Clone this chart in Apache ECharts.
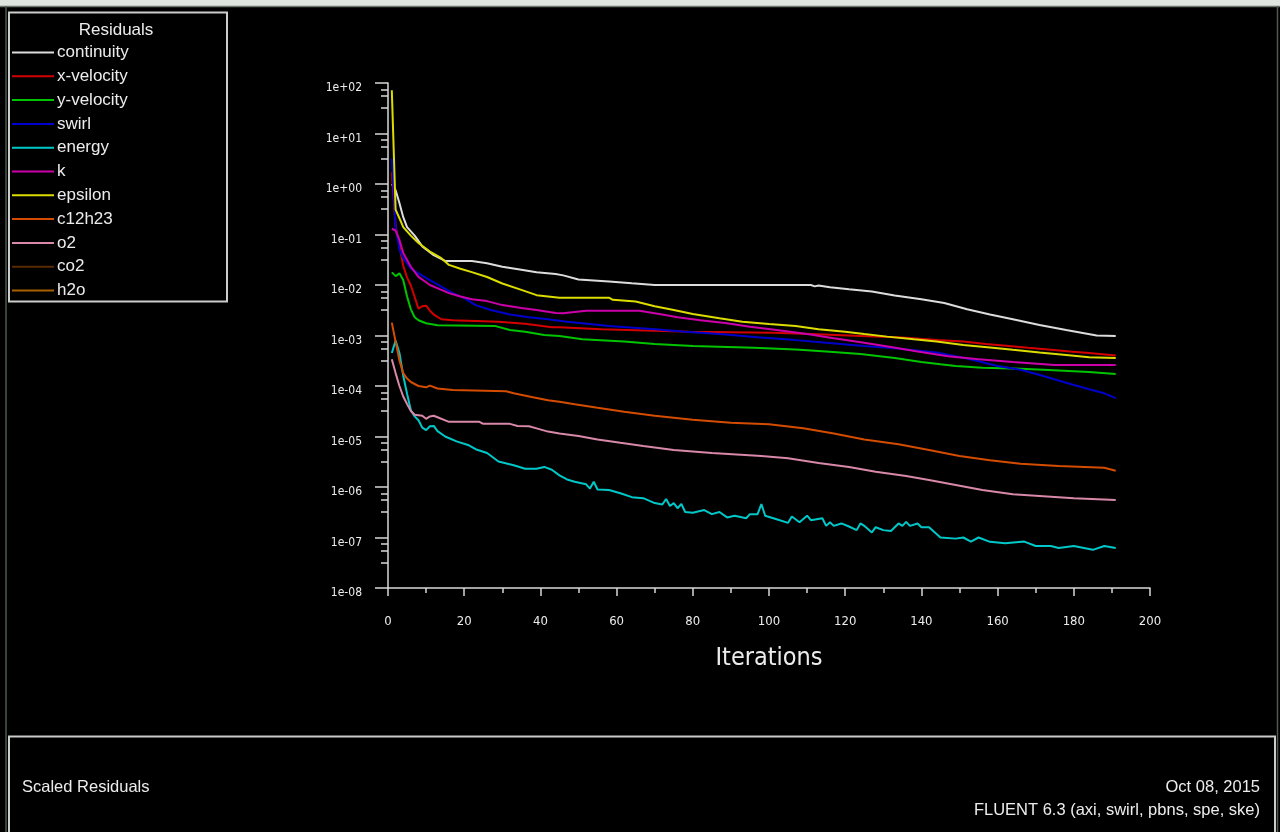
<!DOCTYPE html>
<html>
<head>
<meta charset="utf-8">
<script src="https://cdn.jsdelivr.net/npm/echarts@6/dist/echarts.min.js"></script>
<style>
html,body{margin:0;padding:0;background:#000;}
#chart{width:1280px;height:832px;}
</style>
</head>
<body>
<div id="chart"></div>
<script>
// ---- data (iteration, scaled residual) ----
const seriesNames = ['continuity','x-velocity','y-velocity','swirl','energy','k','epsilon','c12h23','o2','co2','h2o'];
const seriesColors = ['#dcdcdc','#d40000','#00c400','#0000cc','#00c8c8','#cc00aa','#dcdc00','#d44c00','#d888a8','#5a2a00','#a86000'];

const continuity = [[1,1.0],[2,0.75],[3,0.42],[4,0.22],[5,0.14],[7,0.095],[9,0.058],[12,0.039],[15,0.030],[22,0.030],[26,0.027],[30,0.023],[35,0.020],[39,0.0178],[44,0.0165],[46,0.0155],[50,0.0129],[58,0.0117],[64,0.0108],[70,0.0100],[111,0.0100],[112,0.0094],[113,0.0098],[116,0.0090],[121,0.0082],[127,0.0074],[133,0.0062],[140,0.0052],[146,0.0044],[152,0.0033],[158,0.0026],[164,0.0021],[171,0.00162],[178,0.00129],[186,0.0010],[191,0.00098]];
const xVelocity = [[1,1.7],[2,0.15],[3,0.06],[4,0.024],[5,0.014],[6,0.0098],[7,0.0058],[8,0.0034],[9,0.0038],[10,0.0039],[11,0.0031],[12,0.0026],[14,0.0021],[17,0.0020],[29,0.00187],[36,0.0017],[43,0.00146],[45,0.00145],[56,0.00133],[79,0.00119],[101,0.00114],[111,0.00107],[124,0.00098],[135,0.00091],[144,0.00081],[151,0.00076],[157,0.00068],[163,0.00062],[168,0.00057],[174,0.00052],[179,0.00048],[184,0.00045],[191,0.00040]];
const yVelocity = [[1,0.0178],[2,0.0150],[3,0.017],[4,0.0126],[5,0.0059],[6,0.0033],[7,0.0023],[8,0.0020],[10,0.00175],[13,0.0016],[28,0.00155],[32,0.00128],[36,0.00119],[41,0.00102],[45,0.00098],[51,0.00084],[62,0.00076],[70,0.00068],[80,0.00062],[96,0.00057],[107,0.00053],[115,0.00048],[124,0.00043],[133,0.00036],[140,0.00030],[145,0.00027],[149,0.00025],[156,0.00023],[166,0.00022],[172,0.00021],[184,0.00019],[191,0.000173]];
const swirl = [[1,3.2],[2,0.14],[3,0.05],[4,0.034],[6,0.021],[8,0.017],[11,0.0125],[14,0.0093],[17,0.0069],[20,0.0055],[23,0.0040],[27,0.0032],[32,0.0026],[37,0.0023],[42,0.0021],[47,0.00187],[51,0.00175],[58,0.00155],[70,0.00133],[78,0.00119],[87,0.00107],[97,0.00092],[107,0.00081],[115,0.00072],[125,0.00062],[133,0.00056],[144,0.00046],[152,0.00035],[160,0.00025],[166,0.00021],[172,0.000158],[178,0.000116],[184,0.0000861],[188,0.0000716],[191,0.0000575]];
const energy = [[1,0.00045],[2,0.00079],[3,0.00045],[4,0.00016],[5,0.00007],[6,0.000033],[7,0.000025],[8,0.000021],[9,0.000015],[10,0.0000134],[11,0.000016],[12,0.0000162],[13,0.0000128],[15,0.000010],[18,0.0000080],[21,0.0000068],[23,0.0000056],[26,0.0000047],[29,0.0000032],[33,0.0000027],[36,0.0000023],[39,0.0000023],[41,0.0000025],[43,0.0000022],[45,0.0000017],[47,0.00000141],[49,0.00000127],[52,0.00000113],[53,0.00000093],[54,0.00000127],[55,0.00000089],[58,0.00000087],[61,0.00000075],[64,0.00000063],[67,0.0000006],[70,0.00000048],[72,0.00000045],[73,0.00000058],[74,0.00000042],[75,0.00000048],[76,0.00000038],[77,0.00000046],[78,0.00000032],[80,0.00000031],[83,0.00000035],[85,0.00000029],[87,0.00000032],[89,0.00000025],[91,0.00000027],[94,0.00000024],[95,0.00000029],[97,0.00000029],[98,0.00000046],[99,0.00000027],[102,0.00000023],[105,0.000000195],[106,0.00000026],[108,0.0000002],[110,0.00000027],[111,0.00000022],[114,0.00000024],[115,0.00000017],[116,0.0000002],[117,0.00000017],[119,0.00000019],[121,0.000000165],[123,0.00000014],[124,0.00000019],[125,0.00000017],[127,0.000000126],[128,0.00000016],[130,0.00000014],[132,0.000000135],[134,0.00000019],[135,0.00000017],[136,0.000000204],[137,0.00000017],[139,0.00000019],[140,0.00000016],[142,0.00000016],[145,0.0000001],[149,0.000000095],[151,0.0000001],[153,0.000000083],[155,0.0000001],[158,0.000000082],[162,0.000000077],[167,0.000000083],[170,0.000000068],[174,0.000000068],[176,0.000000062],[180,0.000000068],[185,0.000000057],[188,0.000000068],[191,0.000000062]];
const kTurb = [[1,0.13],[2,0.12],[3,0.078],[4,0.043],[6,0.023],[8,0.0145],[11,0.010],[14,0.0080],[16,0.0069],[19,0.0059],[22,0.0052],[26,0.0048],[30,0.0040],[35,0.0035],[39,0.0032],[44,0.0028],[46,0.00275],[52,0.0031],[66,0.0031],[72,0.0026],[76,0.0023],[82,0.0020],[89,0.00175],[95,0.00149],[102,0.00128],[110,0.00107],[117,0.00088],[125,0.00072],[132,0.00059],[139,0.00048],[147,0.00039],[155,0.00034],[164,0.00030],[175,0.00026],[191,0.00026]];
const epsilon = [[1,72],[2,0.31],[3,0.21],[4,0.14],[6,0.095],[8,0.068],[11,0.046],[14,0.034],[16,0.025],[19,0.021],[22,0.018],[26,0.0144],[30,0.0107],[35,0.0080],[39,0.0063],[45,0.0056],[58,0.0056],[59,0.0051],[65,0.0047],[70,0.0038],[75,0.0032],[80,0.00267],[87,0.0022],[93,0.00188],[100,0.00169],[107,0.00155],[113,0.00133],[120,0.00119],[125,0.00107],[131,0.00095],[138,0.00084],[144,0.00076],[151,0.00065],[158,0.00058],[164,0.00052],[171,0.00046],[178,0.00041],[184,0.00037],[191,0.00036]];
const c12h23 = [[1,0.0018],[2,0.00075],[3,0.00032],[4,0.00018],[5,0.00014],[6,0.00012],[8,0.0001],[10,0.000094],[11,0.000102],[13,0.000089],[17,0.000083],[31,0.000079],[33,0.0000716],[38,0.000060],[42,0.000052],[45,0.000049],[49,0.0000437],[55,0.0000370],[62,0.0000310],[70,0.0000257],[80,0.0000214],[90,0.0000188],[100,0.0000174],[109,0.0000145],[117,0.0000115],[125,0.0000087],[134,0.0000070],[142,0.0000054],[150,0.0000041],[158,0.0000034],[166,0.0000029],[176,0.0000026],[188,0.0000024],[191,0.0000021]];
const o2 = [[1,0.00034],[2,0.00018],[3,0.0001],[4,0.000062],[5,0.000044],[6,0.000032],[7,0.000027],[9,0.0000257],[10,0.0000224],[11,0.000025],[12,0.0000257],[13,0.000024],[16,0.0000195],[24,0.0000195],[25,0.0000178],[32,0.0000178],[34,0.0000162],[37,0.000016],[39,0.0000145],[42,0.0000125],[45,0.0000115],[50,0.0000102],[55,0.0000087],[61,0.0000075],[67,0.0000065],[75,0.0000054],[85,0.0000047],[98,0.0000041],[105,0.0000037],[113,0.000003],[121,0.0000025],[128,0.000002],[136,0.00000165],[142,0.00000138],[149,0.0000011],[156,0.00000087],[164,0.00000072],[173,0.00000065],[180,0.0000006],[191,0.00000055]];
const co2 = [];
const h2o = [];
const seriesData = [continuity, xVelocity, yVelocity, swirl, energy, kTurb, epsilon, c12h23, o2, co2, h2o];

// axis settings
const xMin = 0, xMax = 200, xStep = 20;
const yMin = 1e-8, yMax = 1e2;
const minorTickMultipliers = [7.5, 5.5, 3.2];
const minorTickValues = [];
for (let e = -8; e < 2; e++) minorTickMultipliers.forEach(m => minorTickValues.push(m * Math.pow(10, e)));

const axisColor = '#d8d8d8';
const narrow = "'DejaVu Sans Condensed','Liberation Sans Narrow',sans-serif";
const sansFont = "'Liberation Sans',Arial,sans-serif";

const chart = echarts.init(document.getElementById('chart'));
const option = {
  backgroundColor: '#000',
  animation: false,
  grid: { left: 388, top: 83, width: 762, height: 505, containLabel: false },
  legend: {
    orient: 'vertical', left: 12, top: 42.5, padding: 0,
    itemWidth: 42, itemHeight: 2, itemGap: 3.8, icon: 'rect',
    selectedMode: false,
    data: seriesNames,
    textStyle: { color: '#ececec', fontFamily: sansFont, fontSize: 17, lineHeight: 20, padding: [0,0,0,-2] }
  },
  xAxis: {
    type: 'value', min: xMin, max: xMax, interval: xStep,
    name: 'Iterations', nameLocation: 'middle', nameGap: 58,
    nameTextStyle: { color: '#ececec', fontFamily: narrow, fontSize: 25 },
    axisLine: { show: true, lineStyle: { color: axisColor, width: 1.5 } },
    axisTick: { show: true, length: 8, lineStyle: { color: axisColor, width: 1.5 } },
    minorTick: { show: true, splitNumber: 2, length: 5, lineStyle: { color: axisColor, width: 1.5 } },
    axisLabel: { color: '#ececec', fontFamily: narrow, fontSize: 13, margin: 27 },
    splitLine: { show: false }
  },
  yAxis: [{
    type: 'log', logBase: 10, min: yMin, max: yMax, interval: 1,
    axisLine: { show: true, onZero: false, lineStyle: { color: axisColor, width: 1.5 } },
    axisTick: { show: true, length: 13, lineStyle: { color: axisColor, width: 1.5 } },
    axisLabel: {
      color: '#ececec', fontFamily: narrow, fontSize: 12, margin: 26,
      verticalAlign: 'top', lineHeight: 10,
      formatter: v => Number(v).toExponential(0).replace(/e([+-])(\d)$/, 'e$10$2')
    },
    splitLine: { show: false }
  }, {
    type: 'log', logBase: 10, min: yMin, max: yMax, position: 'left',
    axisLine: { show: false },
    axisTick: { show: true, length: 7, customValues: minorTickValues, lineStyle: { color: axisColor, width: 1.5 } },
    axisLabel: { show: false },
    splitLine: { show: false }
  }],
  series: seriesNames.map((n, i) => ({
    name: n, type: 'line', data: seriesData[i], xAxisIndex: 0, yAxisIndex: 0,
    showSymbol: false, symbol: 'none', color: seriesColors[i],
    lineStyle: { width: 2, color: seriesColors[i] }, z: 2 + i
  })),
  graphic: [
    { type: 'rect', shape: { x: 0, y: 0, width: 1280, height: 6 }, style: { fill: '#dfe5df' }, silent: true },
    { type: 'line', shape: { x1: 0, y1: 6.5, x2: 1280, y2: 6.5 }, style: { stroke: '#6a776a', lineWidth: 1.5 }, silent: true },
    { type: 'line', shape: { x1: 6, y1: 6, x2: 6, y2: 832 }, style: { stroke: '#4d5a4d', lineWidth: 1.5 }, silent: true },
    { type: 'line', shape: { x1: 1277.5, y1: 6, x2: 1277.5, y2: 832 }, style: { stroke: '#4d5a4d', lineWidth: 1.5 }, silent: true },
    { type: 'rect', shape: { x: 9, y: 12.5, width: 218, height: 289 }, style: { fill: 'transparent', stroke: '#cccccc', lineWidth: 2 }, silent: true, z: -1 },
    { type: 'text', x: 116, y: 30, style: { text: 'Residuals', fill: '#ececec', font: "17px 'Liberation Sans', Arial, sans-serif", textAlign: 'center', textVerticalAlign: 'middle' }, silent: true },
    { type: 'rect', shape: { x: 9, y: 736.5, width: 1266, height: 110 }, style: { fill: '#000', stroke: '#cccccc', lineWidth: 2 }, silent: true },
    { type: 'text', x: 22, y: 787, style: { text: 'Scaled Residuals', fill: '#ececec', font: "16.5px 'Liberation Sans', Arial, sans-serif", textAlign: 'left', textVerticalAlign: 'middle' }, silent: true },
    { type: 'text', x: 1260, y: 787, style: { text: 'Oct 08, 2015', fill: '#ececec', font: "16.5px 'Liberation Sans', Arial, sans-serif", textAlign: 'right', textVerticalAlign: 'middle' }, silent: true },
    { type: 'text', x: 1260, y: 810, style: { text: 'FLUENT 6.3 (axi, swirl, pbns, spe, ske)', fill: '#ececec', font: "16.5px 'Liberation Sans', Arial, sans-serif", textAlign: 'right', textVerticalAlign: 'middle' }, silent: true }
  ]
};
chart.setOption(option);
</script>
</body>
</html>
